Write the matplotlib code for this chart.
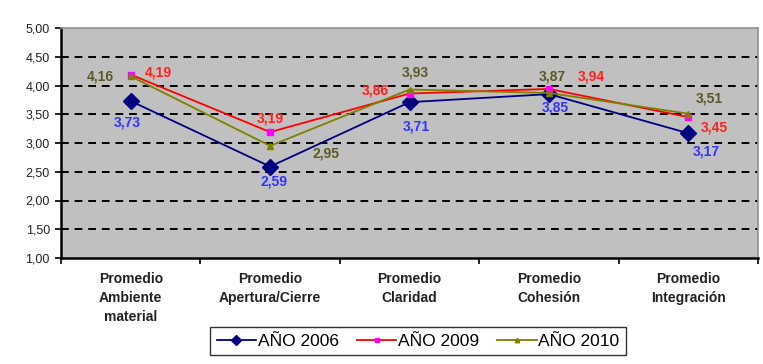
import numpy as np
import matplotlib.pyplot as plt

plt.rcParams['font.family'] = ['Liberation Sans', 'DejaVu Sans']

categories = ['Promedio\nAmbiente\nmaterial', 'Promedio\nApertura/Cierre',
              'Promedio\nClaridad', 'Promedio\nCohesión', 'Promedio\nIntegración']
anio_2006 = [3.73, 2.59, 3.71, 3.85, 3.17]
anio_2009 = [4.19, 3.19, 3.86, 3.94, 3.45]
anio_2010 = [4.16, 2.95, 3.93, 3.87, 3.51]
y_ticks = [1.0, 1.5, 2.0, 2.5, 3.0, 3.5, 4.0, 4.5, 5.0]

# label offsets in pixels (dx, dy) for each point
off_2006 = [(-3, -21), (4, -15), (7, -24), (6, -13), (18, -18)]
off_2009 = [(28, 2), (0, 14), (-34, 3), (42, 12), (26, -10)]
off_2010 = [(-30, 0), (56, -8), (6, 17), (3, 16), (21, 15)]

fig = plt.figure(figsize=(7.63, 3.64), dpi=100)
ax = fig.add_axes([61 / 763, 1 - 258 / 364, 697 / 763, 230 / 364])
ax.set_facecolor('#c0c0c0')

x = np.arange(len(categories))
series = [
    (anio_2006, 'AÑO 2006', '#000080', dict(marker='D', markersize=8, markerfacecolor='#000080',
                                          markeredgecolor='#000080'), '#3333ff', off_2006),
    (anio_2009, 'AÑO 2009', '#ff0000', dict(marker='s', markersize=5, markerfacecolor='#ff00ff',
                                          markeredgecolor='#ff00ff'), '#ff2020', off_2009),
    (anio_2010, 'AÑO 2010', '#808000', dict(marker='^', markersize=5, markerfacecolor='#808000',
                                          markeredgecolor='#808000'), '#5a5a28', off_2010),
]

lines = []
for vals, name, col, mk, lbl_col, offs in series:
    ln, = ax.plot(x, vals, color=col, lw=1.3, label=name, zorder=3, **mk)
    lines.append(ln)
    for xi, v, (dx, dy) in zip(x, vals, offs):
        ax.annotate(f'{v:.2f}'.replace('.', ','), (xi, v), xytext=(dx, dy),
                    textcoords='offset pixels', ha='center', va='center',
                    fontsize=10, fontweight='bold', color=lbl_col, zorder=4)

ax.set_xlim(-0.5, len(categories) - 0.5)
ax.set_ylim(1, 5)
ax.set_yticks(y_ticks)
ax.set_yticklabels([f'{t:.2f}'.replace('.', ',') for t in y_ticks], fontsize=9, color='#222222')
for t in y_ticks[1:-1]:
    ax.axhline(t, color='black', lw=1.4, ls=(0, (4, 3)), zorder=1)

ax.set_xticks(x)
ax.set_xticklabels(categories, fontsize=10, fontweight='bold', color='#222222', linespacing=1.45)
ax.set_xticks(np.arange(len(categories) + 1) - 0.5, minor=True)
ax.tick_params(axis='x', which='major', length=0, pad=10)
ax.tick_params(axis='x', which='minor', length=4, width=1.2, direction='out')
ax.tick_params(axis='y', length=4, width=1.2, direction='out', pad=4)

for side in ['left', 'bottom']:
    ax.spines[side].set_color('black')
    ax.spines[side].set_linewidth(1.8)
for side in ['top', 'right']:
    ax.spines[side].set_color('#909090')
    ax.spines[side].set_linewidth(1.2)

fig.legend(handles=lines, loc='center', bbox_to_anchor=(418 / 763, 1 - 341 / 364),
           ncol=3, fontsize=12.5, frameon=True, fancybox=False, edgecolor='black',
           borderpad=0.35, handlelength=2.3, handletextpad=0.1, columnspacing=1.0,
           markerscale=0.65)

fig.savefig('out.png', dpi=100)
